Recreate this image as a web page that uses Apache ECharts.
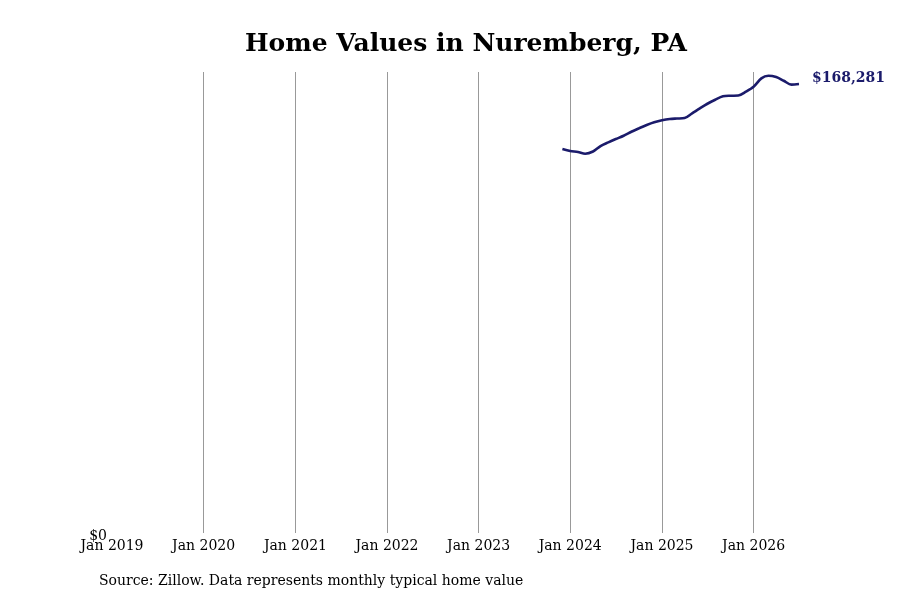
<!DOCTYPE html>
<html>
<head>
<meta charset="utf-8">
<script src="https://cdn.jsdelivr.net/npm/echarts@6/dist/echarts.min.js"></script>
<style>
  html, body { margin: 0; padding: 0; background: #fff; }
  #chart { width: 900px; height: 600px; }
</style>
</head>
<body>
<div id="chart"></div>
<script>
// 数据
const months = [
    '2023-12-01',
    '2024-01-01', '2024-02-01', '2024-03-01', '2024-04-01', '2024-05-01', '2024-06-01',
    '2024-07-01', '2024-08-01', '2024-09-01', '2024-10-01', '2024-11-01', '2024-12-01',
    '2025-01-01', '2025-02-01', '2025-03-01', '2025-04-01', '2025-05-01', '2025-06-01',
    '2025-07-01', '2025-08-01', '2025-09-01', '2025-10-01', '2025-11-01', '2025-12-01',
    '2026-01-01', '2026-02-01', '2026-03-01', '2026-04-01', '2026-05-01', '2026-06-01',
    '2026-07-01'
];
const homeValues = [
    143900,
    143170, 142800, 142160, 142990, 145050, 146430,
    147670, 148910, 150410, 151680, 152920, 153930,
    154680, 155170, 155360, 155540, 157300, 159180,
    160900, 162400, 163680, 163900, 163980, 165400,
    167270, 170420, 171400, 170910, 169520, 168050,
    168281
];
const xStart = '2019-01-01';
const xEnd = '2026-07-01';
const yMax = 172800;

const YEAR_MS = 365.25 * 24 * 3600 * 1000;
const serif = '"DejaVu Serif", serif';
const gridGray = '#999';
const none = 'rgba(0,0,0,0)';
const navy = '#1b1b6b';

function money(v) {
    return '$' + Math.round(v).toLocaleString('en-US');
}

const chart = echarts.init(document.getElementById('chart'));

const seriesData = months.map((m, i) => [m, homeValues[i]]);

const option = {
    backgroundColor: '#fff',
    animation: false,
    title: {
        text: 'Home Values in Nuremberg, PA',
        left: 240,
        top: 27,
        textStyle: {
            fontFamily: serif,
            fontWeight: 'bold',
            fontSize: 25,
            color: '#000'
        }
    },
    grid: {
        left: 112,
        right: 101,
        top: 72,
        bottom: 67
    },
    xAxis: {
        type: 'time',
        min: xStart,
        max: xEnd,
        minInterval: YEAR_MS,
        maxInterval: YEAR_MS,
        axisLine: { show: false },
        axisTick: { show: false },
        axisLabel: {
            fontFamily: serif,
            fontSize: 14,
            color: '#000',
            margin: 6,
            formatter: function (v) {
                return 'Jan ' + new Date(v).getFullYear();
            }
        },
        splitLine: {
            show: true,
            showMinLine: false,
            showMaxLine: false,
            lineStyle: {
                color: [none, gridGray, gridGray, gridGray, gridGray, gridGray, gridGray, gridGray, none],
                width: 1
            }
        }
    },
    yAxis: {
        type: 'value',
        min: 0,
        max: yMax,
        interval: yMax,
        axisLine: { show: false },
        axisTick: { show: false },
        splitLine: { show: false },
        axisLabel: {
            fontFamily: serif,
            fontSize: 14,
            color: '#000',
            margin: 5,
            showMaxLabel: false,
            formatter: function (v) {
                return v === 0 ? '{z|$0}' : '';
            },
            rich: {
                z: {
                    fontFamily: serif,
                    fontSize: 14,
                    color: '#000',
                    padding: [6, 0, 0, 0]
                }
            }
        }
    },
    series: [{
        type: 'line',
        data: seriesData,
        smooth: 0.3,
        showSymbol: false,
        lineStyle: { color: navy, width: 2.6 },
        itemStyle: { color: navy },
        endLabel: {
            show: true,
            distance: 13,
            offset: [0, -6],
            fontFamily: serif,
            fontWeight: 'bold',
            fontSize: 14,
            color: navy,
            formatter: function (p) {
                return money(p.value[1]);
            }
        }
    }],
    graphic: [{
        type: 'text',
        left: 99,
        top: 574,
        style: {
            text: 'Source: Zillow. Data represents monthly typical home value',
            fontFamily: serif,
            fontSize: 14,
            fill: '#000'
        }
    }]
};

chart.setOption(option);
</script>
</body>
</html>
